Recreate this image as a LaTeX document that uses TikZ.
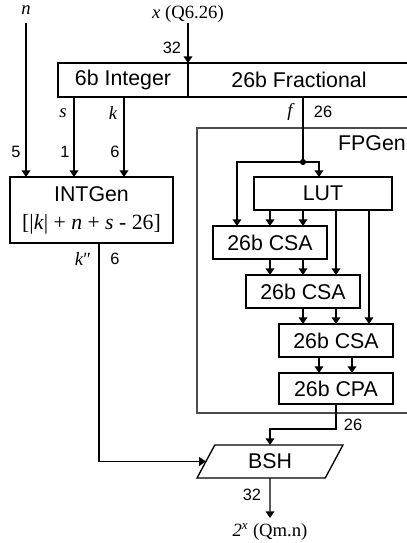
\documentclass[tikz,border=0pt]{standalone}
\usepackage{fontspec}
\setmainfont{Liberation Sans}
\newfontfamily\tms{Liberation Serif}
\usepackage{tikz}
\usetikzlibrary{arrows.meta, shapes.geometric, calc}

\begin{document}
\begin{tikzpicture}[
  x=0.75pt, y=-0.75pt,
  line width=1pt,
  font=\fontsize{16}{19}\selectfont,
  box/.style={draw, minimum width=85.5pt, minimum height=24.75pt, inner sep=0pt, outer sep=0pt, align=center},
  num/.style={font=\fontsize{12.3}{14}\selectfont, inner sep=0pt},
  var/.style={font=\tms\itshape\fontsize{14}{16}\selectfont, inner sep=0pt},
  arr/.style={-{Triangle[length=5pt,width=6.5pt]}}
]
  \useasboundingbox (0,0) rectangle (407,543);

  % input word
  \node[var] (nlab) at (26,10) {n};
  \node[var, font=\tms\fontsize{14}{16}\selectfont] (xlab) at (188,14) {\textit{x} (Q6.26)};
  \coordinate (nin) at (26,23);
  \coordinate (xin) at (188,23);
  \node[box, minimum width=97.5pt, minimum height=25.5pt] (intpart) at (123,80) {6b Integer};
  \node[box, minimum width=166.5pt, minimum height=25.5pt] (fracpart) at (299,80) {26b Fractional};
  \draw[arr] (xin) -- (intpart.north east);
  \node[num] at (172,48) {32};

  % integer path
  \node[box, minimum width=122.25pt, minimum height=49.5pt] (intgen) at (91.5,210)
    {INTGen\\[2pt]{\tms\fontsize{16.3}{18}\selectfont[|\textit{k}| + \textit{n} + \textit{s} - 26]}};
  \draw[arr] (nin) -- (nin |- intgen.north);
  \draw[arr] (74,0 |- intpart.south) -- (74,0 |- intgen.north);
  \draw[arr] (124,0 |- intpart.south) -- (124,0 |- intgen.north);
  \node[var] at (63,113) {s};
  \node[var] at (113,113) {k};
  \node[num] at (16,152) {5};
  \node[num] at (65,152) {1};
  \node[num] at (115,152) {6};

  % fraction path
  \draw[draw=black!70] (197,128) rectangle (415,413);
  \node at (372,143) {FPGen};
  \node[box, minimum width=103.5pt] (lut) at (323,193.5) {LUT};
  \node[box] (csa1) at (270,242.5) {26b CSA};
  \node[box] (csa2) at (303,291.5) {26b CSA};
  \node[box] (csa3) at (336,340.5) {26b CSA};
  \node[box, minimum height=23.25pt] (cpa) at (336,388.5) {26b CPA};
  \coordinate (split) at (303,162);
  \draw (303,0 |- fracpart.south) -- (split);
  \fill (split) circle (2.3pt);
  \draw[arr] (split) -| (237,0 |- csa1.north);
  \draw[arr] (split) -| (319,0 |- lut.north);
  \node[var] at (290,112) {f};
  \node[num] at (323,112) {26};

  \draw[arr] (270,0 |- lut.south) -- (270,0 |- csa1.north);
  \draw[arr] (303,0 |- lut.south) -- (303,0 |- csa1.north);
  \draw[arr] (336,0 |- lut.south) -- (336,0 |- csa2.north);
  \draw[arr] (369,0 |- lut.south) -- (369,0 |- csa3.north);
  \draw[arr] (270,0 |- csa1.south) -- (270,0 |- csa2.north);
  \draw[arr] (303,0 |- csa1.south) -- (303,0 |- csa2.north);
  \draw[arr] (303,0 |- csa2.south) -- (303,0 |- csa3.north);
  \draw[arr] (336,0 |- csa2.south) -- (336,0 |- csa3.north);
  \draw[arr] (319,0 |- csa3.south) -- (319,0 |- cpa.north);
  \draw[arr] (352,0 |- csa3.south) -- (352,0 |- cpa.north);

  % shifter
  \node[box, trapezium, trapezium left angle=65, trapezium right angle=115,
        trapezium stretches=true, minimum width=109.5pt] (bsh) at (270,461.5) {BSH};
  \draw[arr] (cpa.south) -- ++(0,25) -| (bsh.north);
  \node[num] at (353,425) {26};
  \draw[arr] (99,0 |- intgen.south) |- (bsh.west);
  \node[var] at (83,259) {k\/{\upshape\char"2033}};
  \node[num] at (115,259) {6};
  \node[font=\tms\fontsize{14}{16}\selectfont, inner sep=0pt] (out) at (270,532) {\textit{2\textsuperscript{x}} (Qm.n)};
  \draw[arr] (bsh.south) -- (270,518);
  \node[num] at (252,495) {32};
\end{tikzpicture}
\end{document}
